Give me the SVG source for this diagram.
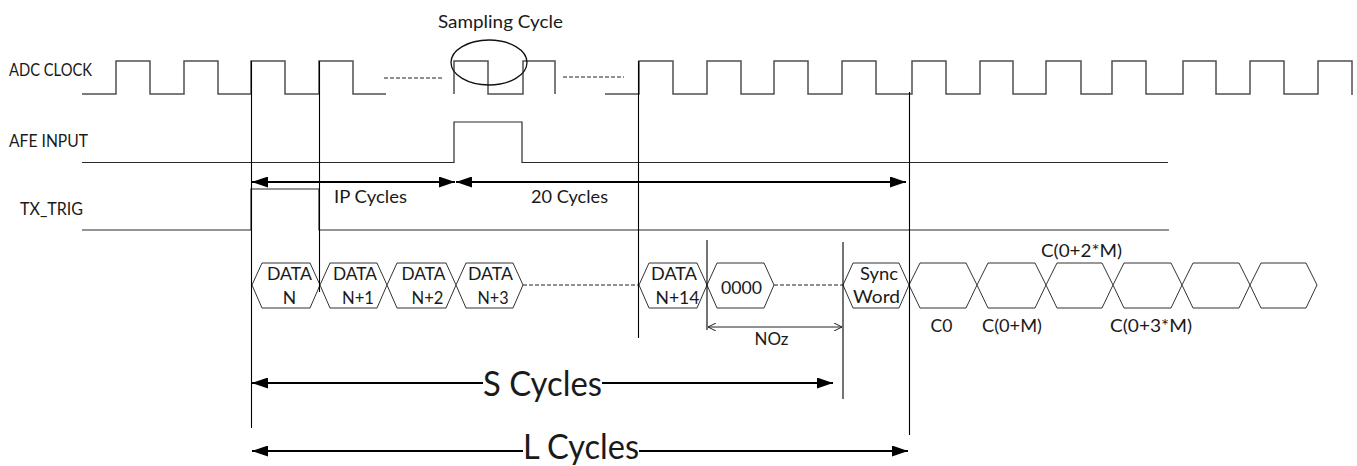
<svg xmlns="http://www.w3.org/2000/svg" width="1357" height="466" viewBox="0 0 1357 466">
<style>
text{font-family:Lato,"Open Sans","Liberation Sans",sans-serif;fill:#1a1a1a}
.lbl{font-size:17.5px}
.big{font-size:34px}
.wave{fill:none;stroke:#505050;stroke-width:1.5}
.sig{fill:none;stroke:#2a2a2a;stroke-width:1.2}
.hex{fill:#fff;stroke:#333;stroke-width:1}
.vl{stroke:#000;stroke-width:1.1}
.dash{stroke:#222;stroke-width:1.2;stroke-dasharray:4 2}
.bold{stroke:#000;stroke-width:2.2;fill:none}
.thin{stroke:#222;stroke-width:1;fill:none}
.mid{text-anchor:middle}
</style>
<defs>
<marker id="ah" markerUnits="userSpaceOnUse" viewBox="0 0 16 11" refX="16" refY="5.5" markerWidth="16" markerHeight="11" orient="auto-start-reverse"><path d="M0,0 L16,5.5 L0,11 z" fill="#000"/></marker>
<marker id="oa" markerUnits="userSpaceOnUse" viewBox="0 0 8 8" refX="8" refY="4" markerWidth="8" markerHeight="8" orient="auto-start-reverse"><path d="M0,0 L8,4 L0,8" fill="none" stroke="#222" stroke-width="1"/></marker>
</defs>

<g id="adc-clock">
<text class="lbl" x="9" y="76" textLength="83" lengthAdjust="spacingAndGlyphs">ADC CLOCK</text>
<path class="wave" d="M82,94 H116 V61 H150 V94 H184 V61 H218 V94 H251 V61 H285 V94 H319 V61 H353 V94 H386"/>
<path class="wave" d="M454,94 V61 H488 V94 H523 V61 H555 V94"/>
<path class="wave" d="M605,94 H639 V61 H673 V94 H707 V61 H741 V94 H774 V61 H808 V94 H842 V61 H876 V94 H912 V61 H946 V94 H980 V61 H1013 V94 H1046 V61 H1081 V94 H1112 V61 H1146 V94 H1183 V61 H1216 V94 H1250 V61 H1284 V94 H1318 V61 H1352 V95"/>
</g>

<g id="sampling-cycle">
<text class="lbl" x="438" y="28" textLength="125" lengthAdjust="spacingAndGlyphs">Sampling Cycle</text>
<ellipse cx="489" cy="62.5" rx="38" ry="22.5" fill="none" stroke="#111" stroke-width="1.3"/>
</g>

<g id="afe-input">
<text class="lbl" x="9" y="146.5" textLength="79" lengthAdjust="spacingAndGlyphs">AFE INPUT</text>
<path class="sig" d="M82,162.5 H454 V122 H522 V162.5 H1168"/>
</g>

<g id="tx-trig">
<text class="lbl" x="20" y="215" textLength="63" lengthAdjust="spacingAndGlyphs">TX_TRIG</text>
<path class="sig" d="M82,230 H251 V189 H319 V230 H1169"/>
</g>

<g id="data-n"><polygon class="hex" points="252,285 262,263 310,263 320,285 310,308 262,308"/>
<text class="lbl mid" x="289.5" y="280" textLength="45" lengthAdjust="spacingAndGlyphs">DATA</text><text class="lbl mid" x="289.5" y="304">N</text></g>
<g id="data-n1"><polygon class="hex" points="320,285 330,263 377,263 387,285 377,308 330,308"/>
<text class="lbl mid" x="355" y="280" textLength="44" lengthAdjust="spacingAndGlyphs">DATA</text><text class="lbl mid" x="358" y="304" textLength="32" lengthAdjust="spacingAndGlyphs">N+1</text></g>
<g id="data-n2"><polygon class="hex" points="387,285 397,263 446,263 456,285 446,308 397,308"/>
<text class="lbl mid" x="423.5" y="280" textLength="44" lengthAdjust="spacingAndGlyphs">DATA</text><text class="lbl mid" x="427.5" y="304" textLength="32" lengthAdjust="spacingAndGlyphs">N+2</text></g>
<g id="data-n3"><polygon class="hex" points="456,285 466,263 513,263 523,285 513,308 466,308"/>
<text class="lbl mid" x="490.5" y="280" textLength="45" lengthAdjust="spacingAndGlyphs">DATA</text><text class="lbl mid" x="493" y="304" textLength="31" lengthAdjust="spacingAndGlyphs">N+3</text></g>
<g id="data-n14"><polygon class="hex" points="639,285 649,263 697,263 707,285 697,308 649,308"/>
<text class="lbl mid" x="674" y="280" textLength="46" lengthAdjust="spacingAndGlyphs">DATA</text><text class="lbl mid" x="677.5" y="304" textLength="44" lengthAdjust="spacingAndGlyphs">N+14</text></g>
<g id="zeros"><polygon class="hex" points="707,285 717,263 764,263 774,285 764,308 717,308"/>
<text class="lbl mid" x="741.5" y="294" textLength="41" lengthAdjust="spacingAndGlyphs">0000</text></g>
<g id="sync-word"><polygon class="hex" points="843,285 853,263 899,263 909,285 899,308 853,308"/>
<text class="lbl mid" x="879" y="280" textLength="38" lengthAdjust="spacingAndGlyphs">Sync</text><text class="lbl mid" x="876.5" y="303" textLength="47" lengthAdjust="spacingAndGlyphs">Word</text></g>

<g id="c0"><polygon class="hex" points="909,285 920,263 966,263 977,285 966,308 920,308"/><text class="lbl mid" x="941.5" y="332">C0</text></g>
<g id="c1"><polygon class="hex" points="977,285 988,263 1035,263 1046,285 1035,308 988,308"/><text class="lbl mid" x="1012" y="332" textLength="60" lengthAdjust="spacingAndGlyphs">C(0+M)</text></g>
<g id="c2"><polygon class="hex" points="1046,285 1057,263 1102,263 1113,285 1102,308 1057,308"/><text class="lbl mid" x="1081.5" y="257" textLength="81" lengthAdjust="spacingAndGlyphs">C(0+2*M)</text></g>
<g id="c3"><polygon class="hex" points="1113,285 1124,263 1171,263 1182,285 1171,308 1124,308"/><text class="lbl mid" x="1151" y="332" textLength="82" lengthAdjust="spacingAndGlyphs">C(0+3*M)</text></g>
<g id="c4"><polygon class="hex" points="1182,285 1193,263 1239,263 1250,285 1239,308 1193,308"/></g>
<g id="c5"><polygon class="hex" points="1250,285 1261,263 1306,263 1317,285 1306,308 1261,308"/></g>

<g id="connectors">
<line class="dash" x1="384" y1="78" x2="444" y2="78"/>
<line class="dash" x1="563" y1="77" x2="624" y2="77"/>
<line class="dash" x1="523" y1="285" x2="639" y2="285"/>
<line class="dash" x1="774" y1="285" x2="843" y2="285"/>
<line class="vl" x1="251.5" y1="61" x2="251.5" y2="428"/>
<line class="vl" x1="319.5" y1="61" x2="319.5" y2="292"/>
<line class="vl" x1="638.5" y1="61" x2="638.5" y2="338"/>
<line class="vl" x1="707" y1="240" x2="707" y2="330"/>
<line class="vl" x1="843" y1="242" x2="843" y2="399"/>
<line class="vl" x1="909.5" y1="92" x2="909.5" y2="435"/>
<path class="bold" d="M252,182 H455" marker-start="url(#ah)" marker-end="url(#ah)"/>
<path class="bold" d="M456,182 H906" marker-start="url(#ah)" marker-end="url(#ah)"/>
<text class="lbl" x="334" y="203" textLength="73" lengthAdjust="spacingAndGlyphs">IP Cycles</text>
<text class="lbl" x="531" y="203" textLength="77" lengthAdjust="spacingAndGlyphs">20 Cycles</text>
<path class="thin" d="M708,327 H842" marker-start="url(#oa)" marker-end="url(#oa)"/>
<text class="lbl mid" x="771.5" y="345" textLength="34" lengthAdjust="spacingAndGlyphs">NOz</text>
<path class="bold" d="M483,383 H252" marker-end="url(#ah)"/>
<path class="bold" d="M602,383 H833" marker-end="url(#ah)"/>
<text class="big" x="483" y="396" textLength="119" lengthAdjust="spacingAndGlyphs">S Cycles</text>
<path class="bold" d="M523,451 H252" marker-end="url(#ah)"/>
<path class="bold" d="M639,451 H908" marker-end="url(#ah)"/>
<text class="big" x="523" y="459" textLength="116" lengthAdjust="spacingAndGlyphs">L Cycles</text>
</g>
</svg>
